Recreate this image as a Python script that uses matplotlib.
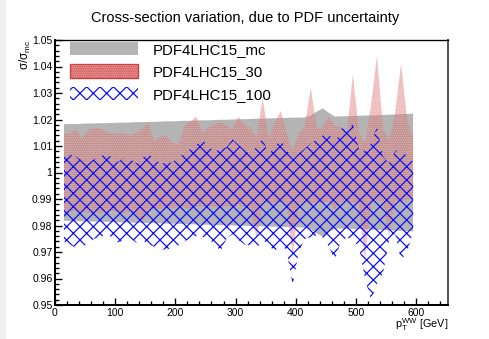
import matplotlib
matplotlib.use('Agg')
import matplotlib.pyplot as plt
from matplotlib.patches import Patch, Rectangle
from matplotlib.ticker import FixedLocator, FixedFormatter, MultipleLocator

# ---------------- data ----------------
pt_bins = [15, 25, 35, 45, 55, 65, 75, 85, 95, 105, 115, 125, 135, 145, 155, 165, 175, 185,
           195, 205, 215, 225, 235, 245, 255, 265, 275, 285, 295, 305, 315, 325, 335, 345,
           355, 365, 375, 385, 395, 405, 415, 425, 435, 445, 455, 465, 475, 485, 495, 505,
           515, 525, 535, 545, 555, 565, 575, 585, 595]

mc_hi = [1.0182, 1.0183, 1.0183, 1.0184, 1.0185, 1.0185, 1.0186, 1.0186, 1.0187, 1.0188,
         1.0188, 1.0189, 1.0190, 1.0190, 1.0191, 1.0191, 1.0192, 1.0193, 1.0193, 1.0194,
         1.0195, 1.0195, 1.0196, 1.0197, 1.0197, 1.0198, 1.0199, 1.0199, 1.0200, 1.0201,
         1.0201, 1.0202, 1.0203, 1.0203, 1.0204, 1.0205, 1.0205, 1.0206, 1.0207, 1.0207,
         1.0208, 1.0215, 1.0230, 1.0242, 1.0225, 1.0211, 1.0212, 1.0212, 1.0213, 1.0214,
         1.0215, 1.0215, 1.0216, 1.0217, 1.0218, 1.0219, 1.0220, 1.0221, 1.0222]
mc_lo = [0.9818, 0.9817, 0.9817, 0.9816, 0.9815, 0.9815, 0.9814, 0.9814, 0.9813, 0.9812,
         0.9812, 0.9811, 0.9810, 0.9810, 0.9809, 0.9809, 0.9808, 0.9807, 0.9807, 0.9806,
         0.9805, 0.9805, 0.9804, 0.9803, 0.9803, 0.9802, 0.9801, 0.9801, 0.9800, 0.9799,
         0.9799, 0.9798, 0.9797, 0.9797, 0.9796, 0.9795, 0.9795, 0.9794, 0.9793, 0.9793,
         0.9792, 0.9785, 0.9770, 0.9758, 0.9775, 0.9789, 0.9788, 0.9788, 0.9787, 0.9786,
         0.9785, 0.9785, 0.9784, 0.9783, 0.9782, 0.9781, 0.9780, 0.9779, 0.9778]

r30_hi = [1.0145, 1.0150, 1.0160, 1.0129, 1.0160, 1.0167, 1.0167, 1.0152, 1.0148, 1.0150,
          1.0147, 1.0141, 1.0150, 1.0162, 1.0186, 1.0116, 1.0135, 1.0138, 1.0112, 1.0104,
          1.0173, 1.0192, 1.0211, 1.0148, 1.0170, 1.0180, 1.0192, 1.0176, 1.0165, 1.0211,
          1.0178, 1.0168, 1.0129, 1.0280, 1.0128, 1.0185, 1.0232, 1.0150, 1.0080, 1.0150,
          1.0172, 1.0320, 1.0162, 1.0170, 1.0211, 1.0175, 1.0173, 1.0150, 1.0370, 1.0150,
          1.0110, 1.0250, 1.0440, 1.0165, 1.0123, 1.0220, 1.0410, 1.0200, 1.0130]
r30_lo = [0.9855, 0.9850, 0.9858, 0.9852, 0.9848, 0.9855, 0.9846, 0.9852, 0.9857, 0.9850,
          0.9848, 0.9853, 0.9845, 0.9815, 0.9860, 0.9868, 0.9862, 0.9870, 0.9866, 0.9872,
          0.9868, 0.9864, 0.9870, 0.9875, 0.9868, 0.9872, 0.9866, 0.9874, 0.9870, 0.9878,
          0.9872, 0.9868, 0.9750, 0.9885, 0.9890, 0.9882, 0.9888, 0.9880, 0.9690, 0.9885,
          0.9892, 0.9880, 0.9890, 0.9886, 0.9893, 0.9860, 0.9890, 0.9895, 0.9885, 0.9880,
          0.9670, 0.9888, 0.9895, 0.9890, 0.9760, 0.9895, 0.9890, 0.9898, 0.9900]

r100_hi = [1.0072, 1.0068, 1.0060, 1.0045, 1.0035, 1.0050, 1.0058, 1.0075, 1.0055, 1.0040,
           1.0058, 1.0050, 1.0035, 1.0055, 1.0072, 1.0050, 1.0035, 1.0035, 1.0038, 1.0058,
           1.0070, 1.0090, 1.0105, 1.0123, 1.0100, 1.0079, 1.0088, 1.0095, 1.0125, 1.0105,
           1.0085, 1.0066, 1.0100, 1.0128, 1.0070, 1.0095, 1.0128, 1.0080, 1.0066, 1.0072,
           1.0090, 1.0110, 1.0125, 1.0140, 1.0148, 1.0104, 1.0165, 1.0175, 1.0180, 1.0090,
           1.0080, 1.0110, 1.0173, 1.0060, 1.0035, 1.0080, 1.0090, 1.0060, 1.0040]
r100_lo = [0.9740, 0.9728, 0.9715, 0.9715, 0.9735, 0.9750, 0.9755, 0.9767, 0.9755, 0.9735,
           0.9745, 0.9752, 0.9735, 0.9745, 0.9730, 0.9720, 0.9708, 0.9710, 0.9715, 0.9725,
           0.9740, 0.9752, 0.9760, 0.9757, 0.9745, 0.9735, 0.9702, 0.9750, 0.9767, 0.9745,
           0.9728, 0.9725, 0.9713, 0.9745, 0.9730, 0.9698, 0.9740, 0.9700, 0.9575, 0.9700,
           0.9750, 0.9755, 0.9763, 0.9755, 0.9720, 0.9670, 0.9740, 0.9755, 0.9745, 0.9720,
           0.9600, 0.9520, 0.9580, 0.9620, 0.9740, 0.9770, 0.9670, 0.9700, 0.9775]

series_labels = ["PDF4LHC15_mc", "PDF4LHC15_30", "PDF4LHC15_100"]
title_text = "Cross-section variation, due to PDF uncertainty"
y_ticks = [0.95, 0.96, 0.97, 0.98, 0.99, 1.00, 1.01, 1.02, 1.03, 1.04, 1.05]
y_tick_labels = ["0.95", "0.96", "0.97", "0.98", "0.99", "1", "1.01", "1.02", "1.03", "1.04", "1.05"]
x_ticks = [0, 100, 200, 300, 400, 500, 600]
x_tick_labels = ["0", "100", "200", "300", "400", "500", "600"]

# ---------------- style ----------------
DPI = 120
W, H = 490, 339
plt.rcParams['font.family'] = ['Liberation Sans', 'DejaVu Sans']
plt.rcParams['mathtext.fontset'] = 'custom'
plt.rcParams['mathtext.rm'] = 'Liberation Sans'
plt.rcParams['mathtext.it'] = 'Liberation Sans'
plt.rcParams['hatch.linewidth'] = 0.75

fig = plt.figure(figsize=(W / DPI, H / DPI), dpi=DPI)
fig.patch.set_facecolor('white')
fig.patches.append(Rectangle((0, 0), 6 / W, 1, transform=fig.transFigure,
                             facecolor='#f0f0f0', edgecolor='none', zorder=0))

ax = fig.add_axes([55 / W, 34 / H, 393 / W, 265 / H])
ax.set_xlim(0, 653)
ax.set_ylim(0.95, 1.05)

gray_c = '#b4b4b4'
red_face = (0.82, 0.22, 0.22, 0.37)
blue_c = '#1010ff'

ax.fill_between(pt_bins, mc_lo, mc_hi, facecolor=gray_c, edgecolor='none', lw=0, zorder=1)
ax.fill_between(pt_bins, r30_lo, r30_hi, facecolor=red_face, edgecolor=(1, 1, 1, 0.45),
                hatch='.........', lw=0, zorder=2)
ax.fill_between(pt_bins, r100_lo, r100_hi, facecolor='none', edgecolor=blue_c,
                hatch='xxx', lw=0, zorder=3)

# ticks
ax.xaxis.set_major_locator(FixedLocator(x_ticks))
ax.xaxis.set_major_formatter(FixedFormatter(x_tick_labels))
ax.xaxis.set_minor_locator(MultipleLocator(20))
ax.yaxis.set_major_locator(FixedLocator(y_ticks))
ax.yaxis.set_major_formatter(FixedFormatter(y_tick_labels))
ax.yaxis.set_minor_locator(MultipleLocator(0.002))
ax.tick_params(which='both', direction='in', top=False, right=False, width=0.8,
               labelsize=6.2, colors='black', pad=1.5)
ax.tick_params(which='major', length=4.3)
ax.tick_params(which='minor', length=2.3)

for s in ['left', 'bottom']:
    ax.spines[s].set_linewidth(1.2)
    ax.spines[s].set_color('black')
ax.spines['top'].set_linewidth(0.8)
ax.spines['top'].set_color('black')
ax.spines['right'].set_linewidth(1.2)
ax.spines['right'].set_color('#555555')

# legend
handles = [
    Patch(facecolor=gray_c, edgecolor='none', label=series_labels[0]),
    Patch(facecolor=(0.90, 0.62, 0.62), edgecolor='#d04040', lw=0.8, hatch='.........',
          label=series_labels[1]),
    Patch(facecolor='none', edgecolor=blue_c, lw=0, hatch='xxx', label=series_labels[2]),
]
leg = fig.legend(handles=handles, loc='upper left', bbox_to_anchor=(70 / W, 1 - 42 / H),
                 frameon=False, fontsize=9.0, handlelength=4.5, handleheight=1.0,
                 handletextpad=1.0, labelspacing=0.5, borderpad=0, borderaxespad=0)

# texts
fig.text(25 / W, 1 - 40 / H, r'$\sigma/\sigma_{\rm mc}$', rotation=90, ha='center', va='top',
         fontsize=7)
fig.text(0.5, 1 - 18 / H, title_text, ha='center', va='center', fontsize=8.8)
fig.text(448 / W, 1 - 325 / H, r'$p_{\rm T}^{\rm WW}$ [GeV]', ha='right', va='center',
         fontsize=6.5)

fig.savefig('out.png', dpi=DPI)
